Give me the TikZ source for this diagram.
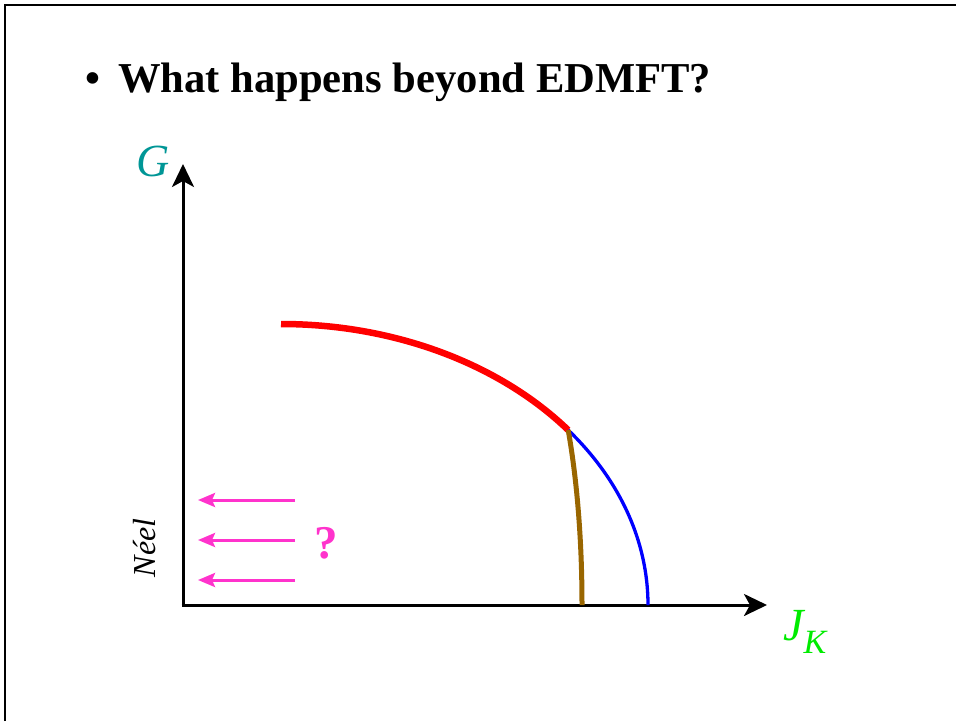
\documentclass[tikz,border=0pt]{standalone}
\usepackage{fontspec}
\setmainfont{Liberation Serif}
\usetikzlibrary{arrows.meta}
\definecolor{gteal}{RGB}{0,150,150}
\definecolor{jgreen}{RGB}{0,235,0}
\definecolor{arrmag}{RGB}{255,51,204}
\definecolor{brownline}{RGB}{153,102,0}
\definecolor{blueline}{RGB}{0,0,255}
\definecolor{redline}{RGB}{255,0,0}
\tikzset{
  axis/.style={line width=3pt,-{Stealth[length=23pt,width=22pt,inset=6pt]}},
  magarrow/.style={arrmag,line width=3pt,-{Stealth[length=17pt,width=14pt,inset=3pt]}},
  bigfont/.style={font=\bfseries\fontsize{42.6}{50}\selectfont}
}
\begin{document}
\begin{tikzpicture}[x=1pt,y=1pt]
\useasboundingbox (0,0) rectangle (956,-721);
\draw[line width=2.2pt] (5,-721) -- (5,-5) -- (956,-5);
% title
\node[bigfont,anchor=base] (bullet) at (93,-92) {•};
\node[bigfont,anchor=base west,inner sep=0pt] (title) at (118,-92) {What happens beyond EDMFT?};
% axes
\coordinate (origin) at (183,-605);
\coordinate (ytip) at (183,-164);
\coordinate (xtip) at (767,-605);
\draw[axis] (origin) -- (ytip);
\draw[axis] ([xshift=-1.5pt]origin) -- (xtip);
\node[gteal,font=\itshape\fontsize{46}{50}\selectfont] (G) at (153,-161) {G};
\node[jgreen,font=\itshape\fontsize{46}{50}\selectfont,anchor=base west,inner sep=0pt] (J) at (783,-640) {J\raisebox{-0.3em}{\fontsize{34}{40}\selectfont K}};
% curves
\coordinate (rstart) at (281,-324);
\draw[redline,line width=6.5pt] (rstart) arc[start angle=90,end angle=38.5,x radius=367,y radius=281] coordinate (junction);
\draw[blueline,line width=3.3pt] (junction) arc[start angle=38.5,end angle=0,x radius=367,y radius=281] coordinate (bend);
\coordinate (brownend) at (582,-605);
\draw[brownline,line width=5pt] (junction) .. controls (577,-480) and (582,-540) .. (brownend);
% magenta arrows
\foreach \yy/\nm in {500/a1,540/a2,580/a3}{
  \coordinate (\nm s) at (295,-\yy);
  \coordinate (\nm e) at (198,-\yy);
  \draw[magarrow] (\nm s) -- (\nm e);
}
\node[arrmag,font=\bfseries\fontsize{47}{50}\selectfont] (q) at (326,-543) {?};
\node[rotate=90,font=\itshape\fontsize{32}{36}\selectfont] (neel) at (145,-548) {Néel};
\end{tikzpicture}
\end{document}
